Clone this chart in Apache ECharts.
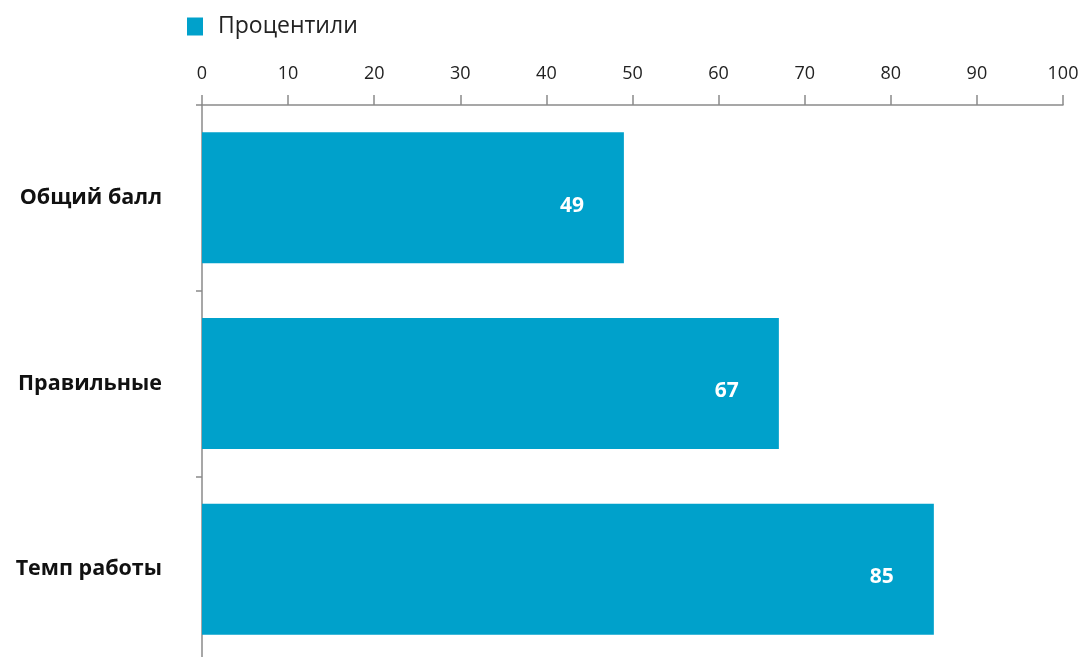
<!DOCTYPE html>
<html><head><meta charset="utf-8">
<script src="https://cdn.jsdelivr.net/npm/echarts@6/dist/echarts.min.js"></script>
<style>html,body{margin:0;padding:0;background:#fff;overflow:hidden}#c{width:1084px;height:666px}</style>
</head><body><div id="c"></div>
<script>
const categories = ["Общий балл", "Правильные", "Темп работы"];
const seriesName = "Процентили";
const values = [49, 67, 85];
const xTicks = [0, 10, 20, 30, 40, 50, 60, 70, 80, 90, 100];

const chart = echarts.init(document.getElementById('c'));
chart.setOption({
  animation: false,
  backgroundColor: '#ffffff',
  legend: {
    left: 182, top: 10,
    itemWidth: 16, itemHeight: 18,
    icon: 'rect',
    textStyle: { fontFamily: 'Open Sans', fontSize: 23, color: '#222', padding: [0, 0, 0, 10] },
    data: [seriesName]
  },
  grid: { left: 202, right: 21, top: 105, bottom: 4, containLabel: false },
  xAxis: {
    type: 'value', position: 'top', min: xTicks[0], max: xTicks[xTicks.length - 1], interval: 10,
    axisLine: { show: true, lineStyle: { color: '#8a8a8a', width: 1.5 } },
    axisTick: { show: true, length: 10, lineStyle: { color: '#8a8a8a', width: 1.5 } },
    axisLabel: { margin: 22, fontFamily: 'Open Sans', fontSize: 18, color: '#222' },
    splitLine: { show: false }
  },
  yAxis: {
    type: 'category', data: categories, inverse: true,
    axisLine: { show: true, lineStyle: { color: '#8a8a8a', width: 1.5 } },
    axisTick: { show: true, length: 6, lineStyle: { color: '#8a8a8a', width: 1.5 } },
    axisLabel: { margin: 40, fontFamily: 'Open Sans', fontWeight: 'bold', fontSize: 21.5, color: '#111' }
  },
  series: [{
    name: seriesName, type: 'bar', data: values, barWidth: 131,
    itemStyle: { color: '#00a1cb' },
    label: { show: true, position: 'insideRight', distance: 40, offset: [0, 8],
      fontFamily: 'Open Sans', fontWeight: 'bold', fontSize: 21, color: '#fff' }
  }]
});
</script></body></html>
